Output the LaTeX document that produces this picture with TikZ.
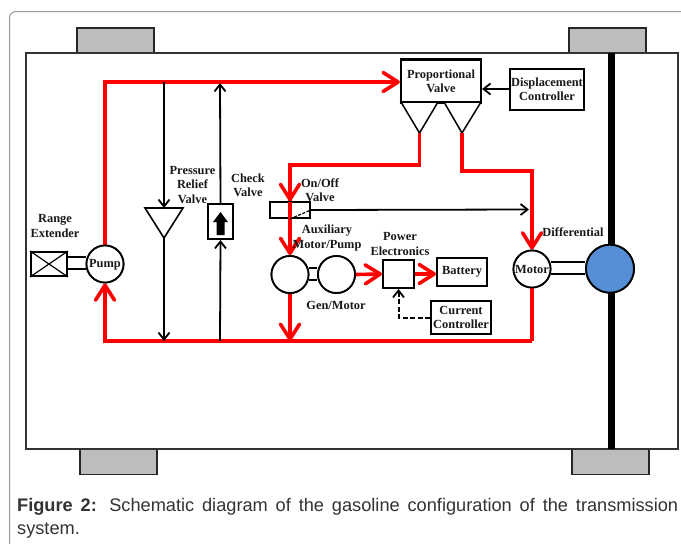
\documentclass[tikz,border=0pt]{standalone}
\usepackage{fontspec}
\setmainfont{Liberation Serif}
\newfontfamily\capfont{Liberation Sans}
\usetikzlibrary{arrows.meta,calc}
\definecolor{hred}{RGB}{255,0,0}
\definecolor{wheelgray}{RGB}{189,189,189}
\definecolor{diffblue}{RGB}{85,142,213}
\definecolor{captext}{RGB}{51,51,51}
\tikzset{
  lab/.style={font=\fontsize{12.4}{14.2}\selectfont\bfseries,text=black!90,align=center,inner sep=0pt},
  wheelbox/.style={draw=black!85,line width=1.8pt,fill=wheelgray,minimum width=77pt,minimum height=25pt,inner sep=0pt},
  blockbox/.style={draw=black,line width=2pt,fill=white,inner sep=0pt,align=center},
  roundm/.style={circle,draw=black,line width=1.8pt,fill=white,minimum size=37pt,inner sep=0pt},
  diffm/.style={circle,draw=black,line width=1.8pt,fill=diffblue,minimum size=48pt,inner sep=0pt},
  redline/.style={draw=hred,line width=3.6pt,line cap=butt,line join=miter},
  redarrow/.style={redline,-{Straight Barb[length=15pt,width=19pt,line width=3.6pt,round]}},
  blackline/.style={draw=black,line width=1.8pt},
  blackarrow/.style={blackline,-{Straight Barb[length=7pt,width=11pt,line width=1.8pt]}},
  shaft/.style={draw=black,line width=1.5pt},
}
\begin{document}
\begin{tikzpicture}[x=1pt,y=-1pt]
\useasboundingbox (0,0) rectangle (681,544);
\fill[white] (0,0) rectangle (681,544);
% card outline
\draw[black!40,line width=1pt,rounded corners=6.5pt] (9.5,546) -- (9.5,11.5) -- (683,11.5);
% wheels
\node[wheelbox] (wTL) at (115.5,40.5) {};
\node[wheelbox] (wTR) at (607.5,40.5) {};
\node[wheelbox] (wBL) at (118.5,462) {};
\node[wheelbox] (wBR) at (610.5,462) {};
% chassis
\draw[draw=black!80,line width=1.8pt] (26,53) rectangle (678,449);
% axle
\fill[black] (607.5,53) rectangle (614.5,449);
% coordinates
\coordinate (topL) at (105,82);
\coordinate (botL) at (105,341);
\coordinate (botR) at (532,341);
\coordinate (relTop) at (164,82);
\coordinate (relBot) at (164,341);
\coordinate (chkTop) at (220,83);
\coordinate (chkBot) at (220,341);
\coordinate (junc) at (290,341);
% components
\node[blockbox,minimum width=80pt,minimum height=43pt,lab,draw=black,line width=2.2pt] (pv) at (441,81) {Proportional\\Valve};
\draw[draw=black,line width=1.5pt,fill=white] (401,102) -- (419.5,133) -- (438,102) -- cycle;
\coordinate (t1) at (419.5,133);
\draw[draw=black,line width=1.5pt,fill=white] (444,102) -- (462,133) -- (481,102) -- cycle;
\coordinate (t2) at (462,133);
\node[blockbox,minimum width=74pt,minimum height=41pt,lab,draw=black,line width=2pt] (dc) at (547,89) {Displacement\\Controller};
\node[roundm] (pump) at (105,264) {};
\node[roundm] (motor) at (532,269) {};
\node[roundm] (aux) at (290,274.5) {};
\node[roundm] (gen) at (336.5,274.5) {};
\node[blockbox,minimum width=31pt,minimum height=28pt] (pe) at (398.5,274) {};
\node[blockbox,minimum width=50pt,minimum height=28pt,lab,draw=black,line width=2pt] (bat) at (462,272) {Battery};
\node[blockbox,minimum width=60pt,minimum height=33pt,lab,draw=black,line width=2pt] (cc) at (461,317.5) {Current\\Controller};
\node[blockbox,minimum width=36pt,minimum height=24pt] (rx) at (49,264) {};
\draw[line width=1.2pt] (rx.north west) -- (rx.south east) (rx.north east) -- (rx.south west);
\node[diffm] (diff) at (610,268.7) {};
% red lines
\draw[redline] (t1) |- (290,165) -- (290,204);
\draw[redarrow] (pump.north) |- (pv.west|-topL);
\draw[redarrow] (t2) |- (532,171) -- (motor.north);
\draw[redline] (botR) -- (motor.south);
\draw[redarrow] (botR) -- (botL) -- (pump.south);
\draw[redarrow] (aux.south) -- (junc);
% shafts
\draw[shaft] (rx.east|-0,257) -- (pump.west|-0,257) (rx.east|-0,269) -- (pump.west|-0,269);
\draw[shaft] (aux.east|-0,268) -- (gen.west|-0,268) (aux.east|-0,280) -- (gen.west|-0,280);
\draw[shaft] (motor.east|-0,262) -- (diff.west|-0,262) (motor.east|-0,274) -- (diff.west|-0,274);
% redraw round parts over shafts
\node[roundm] at (pump) {};
\node[roundm] at (motor) {};
\node[roundm] at (aux) {};
\node[roundm] at (gen) {};
\node[diffm] at (diff) {};
\node[lab] (pumpL) at (105,265) {Pump};
\node[lab] (motorL) at (532,269.5) {Motor};
% relief valve
\draw[draw=black,line width=1.6pt,fill=white] (145,208) -- (164,238) -- (183,208) -- cycle;
\coordinate (relA) at (164,208);
\coordinate (relB) at (164,238);
\draw[blackarrow] (relTop) -- (relA);
\draw[blackarrow] (relB) -- (relBot);
% check valve
\node[blockbox,minimum width=25pt,minimum height=35pt] (chk) at (220.5,221.5) {};
\draw[blackarrow] (chkBot) -- (chk.south);
\draw[blackarrow] (chk.north) -- (chkTop);
\fill[black] (220.5,212) -- (228,222) -- (224.5,222) -- (224.5,235) -- (216.5,235) -- (216.5,222) -- (213,222) -- cycle;
% on/off valve
\node[draw=black,line width=1.8pt,minimum width=40pt,minimum height=16pt,inner sep=0pt] (oo) at (290,210) {};
\draw[redline] (290,202) -- (290,240);
\draw[redarrow] (290,170) -- (oo.north);
\draw[redarrow] (oo.south) -- (aux.north);
\draw[draw=black,line width=1.2pt,dash pattern=on 3pt off 1.5pt] (oo.south) -- (oo.east);
\draw[blackarrow] (oo.east) -- (529,209.5);
% electric
\draw[redarrow] (gen.east) -- (pe.west);
\draw[redarrow] (pe.east) -- (bat.west|-pe.east);
\draw[blackarrow] (dc.west) -- (pv.east|-dc.west);
\draw[blackarrow,line width=2pt,dash pattern=on 5pt off 2.5pt] (cc.west) -| (pe.south);
% labels
\node[lab] (l1) at (55,226) {Range\\Extender};
\node[lab] (l2) at (192.5,185) {Pressure\\Relief\\Valve};
\node[lab] (l3) at (248,185.5) {Check\\Valve};
\node[lab] (l4) at (320,190) {On/Off\\Valve};
\node[lab] (l5) at (327,238) {Auxiliary\\Motor/Pump};
\node[lab] (l6) at (336,305) {Gen/Motor};
\node[lab] (l7) at (400,244) {Power\\Electronics};
\node[lab] (l8) at (573,232) {Differential};
% caption
\node[anchor=north west,inner sep=0pt,text width=661pt,align=justify,text=captext,font=\capfont\fontsize{18.2}{23}\selectfont] (cap) at (17,498) {\textbf{Figure 2:} Schematic diagram of the gasoline configuration of the transmission\linebreak system.};
\end{tikzpicture}
\end{document}
